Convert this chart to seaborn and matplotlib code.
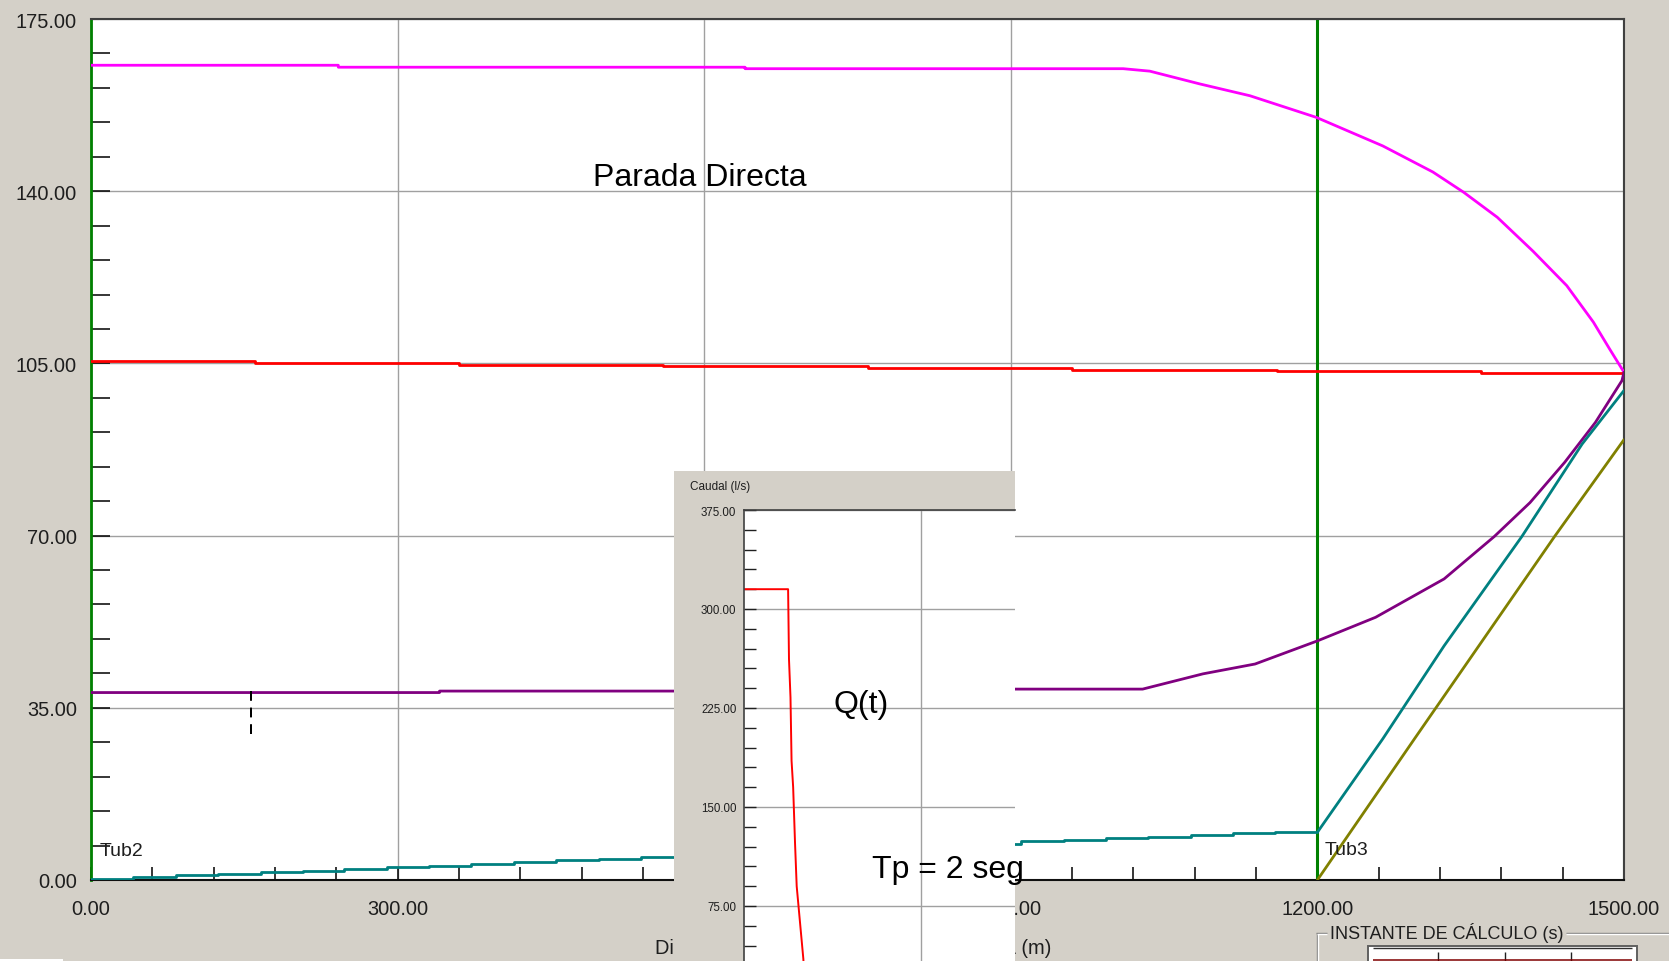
import matplotlib
matplotlib.use("Agg")
import matplotlib.pyplot as plt
import seaborn as sns
from matplotlib.patches import Rectangle
from matplotlib.lines import Line2D
from matplotlib.ticker import MultipleLocator, FixedLocator, FormatStrFormatter

# ---------------------------------------------------------------- data
# Head envelopes along the pipe: distance (m) -> head (m)
magenta_x = [0, 242, 242, 640, 640, 1010, 1036, 1085, 1134, 1199, 1264, 1313,
             1343, 1376, 1411, 1444, 1470, 1486, 1500]
magenta_y = [165.6, 165.6, 165.2, 165.2, 164.9, 164.9, 164.4, 161.8, 159.4, 155.0,
             149.2, 143.9, 139.8, 134.7, 127.8, 120.8, 113.4, 107.9, 103.2]

red_x = [0, 160, 360, 560, 760, 960, 1160, 1360, 1500]
red_y = [105.4, 105.1, 104.7, 104.4, 104.1, 103.7, 103.4, 103.0, 103.0]

purple_x = [0, 341, 341, 740, 740, 1029, 1088, 1139, 1200, 1257, 1324, 1373,
            1408, 1442, 1472, 1498, 1500]
purple_y = [38.1, 38.1, 38.4, 38.4, 38.8, 38.8, 41.9, 43.9, 48.6, 53.4, 61.2, 69.8,
            76.7, 84.9, 93.0, 101.5, 103.2]

teal_step_x = [0, 41, 83, 124, 166, 207, 248, 290, 331, 372, 414, 455, 497, 538, 579,
               621, 662, 703, 745, 786, 828, 869, 910, 952, 993, 1034, 1076, 1117,
               1159, 1200]
teal_step_y = [0.3, 0.7, 1.0, 1.2, 1.55, 1.8, 2.2, 2.55, 2.9, 3.3, 3.7, 4.0, 4.3, 4.6,
               4.95, 5.3, 5.6, 5.95, 6.3, 6.6, 6.95, 7.3, 7.9, 8.1, 8.45, 8.8, 9.1,
               9.5, 9.7, 9.7]
teal_ramp_x = [1200, 1264, 1324, 1400, 1459, 1500]
teal_ramp_y = [9.7, 28.7, 47.6, 69.8, 88.6, 99.5]

olive_x = [1200, 1295, 1432, 1500]
olive_y = [0.0, 28.7, 69.8, 89.5]

cursor_x = [157, 157]
cursor_y = [29.7, 38.8]

pipe_joints = [1200, 1500]
pipe_labels = ["Tub2", "Tub3"]
pipe_label_x = [8.8, 1207]
pipe_label_y = [5.1, 5.3]

# Valve discharge during the closure: time (s) -> Q (l/s)
q_t = [0, 4.98, 5.08, 5.25, 5.37, 5.55, 5.76, 5.95, 6.7, 7.0, 30.6]
q_v = [315, 315, 262, 233, 185, 165, 123, 90, 35, 0, 0]

# ---------------------------------------------------------------- style
W, H, DPI = 1669, 962, 100
BG = "#d4d0c8"
TXT = "#1e1e1e"

sns.set_theme(style="white")
plt.rcParams["font.family"] = ["Liberation Sans", "DejaVu Sans"]


def fx(px):
    return px / W


def fy(py):
    return 1 - py / H


def pxline(fig, xs, ys, color, lw, z=8):
    fig.add_artist(Line2D([fx(v) for v in xs], [fy(v) for v in ys],
                          transform=fig.transFigure, color=color, lw=lw,
                          zorder=z, solid_capstyle="butt"))


fig = plt.figure(figsize=(W / DPI, H / DPI), dpi=DPI, facecolor=BG)

# ---------------------------------------------------------------- main axes
ax = fig.add_axes([fx(91), fy(881), (1624 - 91) / W, (881 - 20) / H])
ax.set_facecolor("white")
ax.set_xlim(0, 1500)
ax.set_ylim(0, 175)

ax.xaxis.set_major_locator(MultipleLocator(300))
ax.xaxis.set_minor_locator(MultipleLocator(60))
ax.yaxis.set_major_locator(MultipleLocator(35))
ax.yaxis.set_minor_locator(MultipleLocator(7))
ax.xaxis.set_major_formatter(FormatStrFormatter("%.2f"))
ax.yaxis.set_major_formatter(FormatStrFormatter("%.2f"))
ax.grid(True, which="major", color="#a0a0a0", lw=1.0)
ax.tick_params(axis="y", which="both", direction="in", length=13.7, width=1.1,
               color="black", pad=10, labelsize=14.4, labelcolor=TXT,
               left=True, right=False)
ax.tick_params(axis="x", which="both", direction="in", length=9.4, width=1.1,
               color="black", pad=13.5, labelsize=14.4, labelcolor=TXT,
               bottom=True, top=False)

for side, col, lw in [("left", "#008000", 2.0), ("bottom", "#101010", 1.5),
                      ("top", "#404040", 1.5), ("right", "#404040", 1.5)]:
    ax.spines[side].set_color(col)
    ax.spines[side].set_linewidth(lw)
    ax.spines[side].set_visible(True)

for xj in pipe_joints:
    ax.axvline(xj, color="#008000", lw=2.2, zorder=2.5)

lw_main = 2.0
sns.lineplot(x=magenta_x, y=magenta_y, ax=ax, color="#ff00ff", lw=lw_main,
             estimator=None, sort=False, zorder=3)
sns.lineplot(x=red_x, y=red_y, ax=ax, color="#ff0000", lw=lw_main,
             estimator=None, sort=False, drawstyle="steps-post", zorder=3)
sns.lineplot(x=purple_x, y=purple_y, ax=ax, color="#800080", lw=lw_main,
             estimator=None, sort=False, zorder=3)
sns.lineplot(x=teal_step_x, y=teal_step_y, ax=ax, color="#008080", lw=lw_main,
             estimator=None, sort=False, drawstyle="steps-post", zorder=3)
sns.lineplot(x=teal_ramp_x, y=teal_ramp_y, ax=ax, color="#008080", lw=lw_main,
             estimator=None, sort=False, zorder=3)
sns.lineplot(x=olive_x, y=olive_y, ax=ax, color="#808000", lw=lw_main,
             estimator=None, sort=False, zorder=3)
ax.plot(cursor_x, cursor_y, color="black", lw=1.44, ls=(0, (4.9, 3.4)), zorder=4)

for lab, lx, ly in zip(pipe_labels, pipe_label_x, pipe_label_y):
    ax.text(lx, ly, lab, fontsize=14.0, color=TXT, ha="left", va="baseline", zorder=5)

ax.set_xlabel("Distancia desde el depósito de cabecera (m)", fontsize=14.4,
              color=TXT, ha="left")
ax.xaxis.set_label_coords((655 - 91) / 1533, (881 - 939) / 861)
ax.set_ylabel("")

# ---------------------------------------------------------------- discharge panel
fig.add_artist(Rectangle((fx(674), fy(962)), (1015 - 674) / W, (962 - 472) / H,
                         transform=fig.transFigure, facecolor=BG, edgecolor="none",
                         zorder=5))

iax = fig.add_axes([fx(744), fy(1006), (1015 - 744) / W, (1006 - 511) / H], zorder=6)
iax.set_facecolor("white")
iax.set_xlim(0, 30.6)
iax.set_ylim(0, 375)
iax.xaxis.set_major_locator(FixedLocator([20]))
iax.yaxis.set_major_locator(MultipleLocator(75))
iax.yaxis.set_minor_locator(MultipleLocator(15))
iax.yaxis.set_major_formatter(FormatStrFormatter("%.2f"))
iax.grid(True, which="major", color="#a0a0a0", lw=1.0)
iax.tick_params(axis="y", which="both", direction="in", length=8.6, width=1.0,
                color="#202020", pad=5.5, labelsize=8.3, labelcolor=TXT,
                left=True, right=False)
iax.tick_params(axis="x", which="both", bottom=False, top=False,
                labelbottom=False)
iax.spines["right"].set_visible(False)
for side in ["left", "top", "bottom"]:
    iax.spines[side].set_color("#404040")
    iax.spines[side].set_linewidth(1.2)
    iax.spines[side].set_visible(True)

sns.lineplot(x=q_t, y=q_v, ax=iax, color="#ff0000", lw=1.4,
             estimator=None, sort=False)
iax.set_xlabel("")
iax.set_ylabel("")

fig.text(fx(690), fy(487), "Caudal (l/s)", fontsize=8.5, color=TXT,
         ha="left", va="center", zorder=7)

# ---------------------------------------------------------------- annotations
fig.text(fx(699.5), fy(186), "Parada Directa", fontsize=23, color="black",
         ha="center", va="baseline", zorder=10)
fig.text(fx(861), fy(713), "Q(t)", fontsize=23, color="black",
         ha="center", va="baseline", zorder=10)
fig.text(fx(872), fy(878), "Tp = 2 seg", fontsize=23, color="black",
         ha="left", va="baseline", zorder=10)

# ---------------------------------------------------------------- time-step group box
pxline(fig, [1316, 1327], [933.5, 933.5], "#808080", 1.0)
pxline(fig, [1566, 1669], [933.5, 933.5], "#808080", 1.0)
pxline(fig, [1316.5, 1316.5], [933.5, 962], "#808080", 1.0)
pxline(fig, [1317, 1327], [934.5, 934.5], "white", 1.0)
pxline(fig, [1566, 1669], [934.5, 934.5], "white", 1.0)
pxline(fig, [1317.5, 1317.5], [934.5, 962], "white", 1.0)
fig.text(fx(1330), fy(939), "INSTANTE DE CÁLCULO (s)", fontsize=13, color=TXT,
         ha="left", va="baseline", zorder=8)

fig.add_artist(Rectangle((fx(1368), fy(963)), (1637 - 1368) / W, (963 - 947) / H,
                         transform=fig.transFigure, facecolor="white",
                         edgecolor="#606060", lw=1.4, zorder=8))
pxline(fig, [1373, 1632], [949, 949], "#303030", 1.0, z=9)
for tx in [1438, 1505, 1571]:
    pxline(fig, [tx, tx], [953, 962], "#202020", 1.0, z=9)
pxline(fig, [1373, 1632], [960.5, 960.5], "#800000", 1.1, z=9)

fig.add_artist(Rectangle((fx(0), fy(962)), 63 / W, 2 / H,
                         transform=fig.transFigure, facecolor="white",
                         edgecolor="none", zorder=8))

fig.savefig("out.png", dpi=DPI, facecolor=BG)
